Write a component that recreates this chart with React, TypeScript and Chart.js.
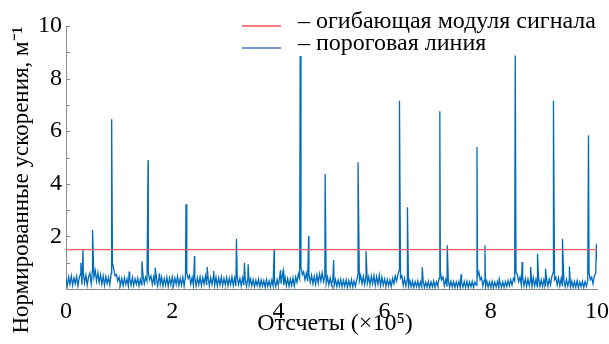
import { useEffect, useRef } from "react";
import { Chart, registerables } from "chart.js";

Chart.register(...registerables);

// ---- data ----
const xMin = 0;
const xMax = 10;
const baseStep = 0.025; // x-spacing of the baseline samples (×10^5)

// baseline (noise) samples of the signal, x = 0 … 10 step 0.025
const baseline = [
  0.40, 0.12, 0.46, 0.18, 0.50, 0.14, 0.42, 0.20, 0.48, 0.11, 0.44, 0.58, 0.16, 0.66, 0.22, 0.52, 0.15, 0.47, 0.60, 0.20,
  0.75, 0.45, 0.70, 0.30, 0.62, 0.25, 0.55, 0.18, 0.50, 0.14, 0.47, 0.20, 0.44, 0.16, 0.58, 0.98, 0.75, 0.50, 0.55, 0.30,
  0.45, 0.15, 0.40, 0.12, 0.43, 0.17, 0.38, 0.10, 0.41, 0.14, 0.44, 0.13, 0.39, 0.18, 0.42, 0.11, 0.37, 0.16, 0.52, 0.20,
  0.45, 0.30, 0.62, 0.35, 0.50, 0.18, 0.46, 0.14, 0.48, 0.12, 0.43, 0.17, 0.45, 0.11, 0.40, 0.15, 0.44, 0.10, 0.41, 0.16,
  0.46, 0.13, 0.42, 0.17, 0.48, 0.12, 0.40, 0.15, 0.45, 0.11, 0.50, 0.60, 0.40, 0.52, 0.18, 0.44, 0.14, 0.41, 0.12, 0.43,
  0.16, 0.47, 0.13, 0.44, 0.18, 0.50, 0.15, 0.46, 0.12, 0.43, 0.17, 0.48, 0.14, 0.45, 0.11, 0.42, 0.16, 0.46, 0.13, 0.40,
  0.15, 0.44, 0.12, 0.41, 0.17, 0.46, 0.13, 0.42, 0.11, 0.45, 0.16, 0.40, 0.12, 0.43, 0.14, 0.39, 0.10, 0.42, 0.15, 0.38,
  0.12, 0.36, 0.09, 0.33, 0.13, 0.37, 0.08, 0.34, 0.11, 0.32, 0.07, 0.35, 0.10, 0.31, 0.08, 0.34, 0.12, 0.30, 0.09, 0.36,
  0.14, 0.48, 0.20, 0.55, 0.15, 0.45, 0.12, 0.40, 0.10, 0.38, 0.13, 0.42, 0.11, 0.46, 0.25, 0.58, 0.40, 0.82, 0.55, 0.66,
  0.35, 0.60, 0.30, 0.56, 0.25, 0.52, 0.20, 0.48, 0.18, 0.54, 0.22, 0.58, 0.30, 0.62, 0.28, 0.50, 0.20, 0.46, 0.15, 0.42,
  0.16, 0.40, 0.12, 0.36, 0.09, 0.34, 0.11, 0.37, 0.08, 0.33, 0.10, 0.35, 0.07, 0.32, 0.09, 0.36, 0.08, 0.31, 0.10, 0.34,
  0.58, 0.30, 0.52, 0.20, 0.48, 0.17, 0.50, 0.22, 0.46, 0.15, 0.49, 0.20, 0.52, 0.14, 0.47, 0.18, 0.53, 0.12, 0.45, 0.15,
  0.38, 0.10, 0.36, 0.12, 0.34, 0.09, 0.40, 0.20, 0.50, 0.30, 0.55, 0.72, 0.42, 0.50, 0.14, 0.40, 0.11, 0.35, 0.09, 0.33,
  0.08, 0.30, 0.06, 0.28, 0.09, 0.31, 0.05, 0.27, 0.08, 0.32, 0.06, 0.26, 0.07, 0.29, 0.05, 0.27, 0.08, 0.30, 0.06, 0.28,
  0.12, 0.40, 0.68, 0.35, 0.45, 0.12, 0.36, 0.09, 0.32, 0.07, 0.30, 0.08, 0.28, 0.06, 0.27, 0.08, 0.29, 0.05, 0.26, 0.07,
  0.28, 0.06, 0.30, 0.05, 0.27, 0.08, 0.29, 0.06, 0.26, 0.15, 0.48, 0.65, 0.35, 0.44, 0.12, 0.33, 0.08, 0.30, 0.06, 0.27,
  0.07, 0.29, 0.05, 0.26, 0.08, 0.28, 0.05, 0.25, 0.07, 0.27, 0.06, 0.28, 0.09, 0.32, 0.12, 0.35, 0.15, 0.40, 0.30, 0.62,
  0.55, 0.28, 0.45, 0.15, 0.42, 0.12, 0.40, 0.10, 0.38, 0.12, 0.40, 0.09, 0.43, 0.11, 0.37, 0.08, 0.41, 0.10, 0.35, 0.09,
  0.36, 0.12, 0.40, 0.10, 0.38, 0.15, 0.48, 0.62, 0.35, 0.45, 0.15, 0.42, 0.12, 0.40, 0.10, 0.38, 0.09, 0.36, 0.11, 0.33,
  0.08, 0.30, 0.06, 0.28, 0.07, 0.31, 0.05, 0.27, 0.08, 0.29, 0.06, 0.28, 0.10, 0.33, 0.62, 0.35, 0.45, 0.20, 0.50, 0.60,
  1.15,
];

// narrow impulses of the signal
const spikeX = [
  0.28, 0.32, 0.5, 0.86, 1.19, 1.43, 1.546, 1.68, 1.76, 2.26, 2.42, 2.66, 2.78, 3.21, 3.36, 3.43,
  3.92, 4.04, 4.09, 4.41, 4.57, 4.88, 5.04, 5.5, 5.65, 6.28, 6.43, 6.71, 7.04, 7.18, 7.44, 7.74,
  7.89, 8.16, 8.46, 8.59, 8.75, 8.88, 9.03, 9.18, 9.35, 9.48, 9.84, 9.99,
];
const spikeY = [
  1.0, 1.48, 2.25, 6.45, 0.66, 1.05, 4.9, 0.81, 0.6, 3.22, 1.25, 0.84, 0.68, 1.91, 1.0, 0.94,
  1.49, 0.72, 0.7, 8.86, 2.01, 4.37, 1.1, 4.82, 1.44, 7.16, 3.11, 0.83, 6.76, 1.66, 0.56, 5.4,
  1.66, 0.38, 8.88, 1.03, 0.84, 1.34, 0.77, 7.16, 1.91, 0.86, 5.85, 1.72,
];

// horizontal threshold line
const thresholdX = [0, 10];
const thresholdY = [1.5, 1.5];

const legendLabels = ["огибающая модуля сигнала", "пороговая линия"];
const xTitle = "Отсчеты (×10⁵)";
const yTitle = "Нормированные ускорения, м⁻¹";
const xTickStep = 2;
const yTickStep = 2;
const yMin = 0;
const yMax = 10;

// ---- styles ----
const SERIF = "'Liberation Serif', 'Times New Roman', serif";
const BLUE = "rgb(0,108,188)";
const RED = "rgb(242,95,95)";
const AXIS = "#8a8a8a";

const decorPlugin = {
  id: "decor",
  afterDraw(chart: any) {
    const { ctx, chartArea, scales } = chart;
    const xs = scales.x;
    const ys = scales.y;
    ctx.save();
    // inward minor/major ticks
    ctx.strokeStyle = AXIS;
    ctx.lineWidth = 1;
    ctx.beginPath();
    for (let v = xMin + 1; v < xMax; v++) {
      const px = Math.round(xs.getPixelForValue(v)) + 0.5;
      ctx.moveTo(px, chartArea.bottom);
      ctx.lineTo(px, chartArea.bottom - 4);
    }
    for (let v = yMin + 1; v <= yMax; v++) {
      const py = Math.round(ys.getPixelForValue(v)) + 0.5;
      ctx.moveTo(chartArea.left, py);
      ctx.lineTo(chartArea.left + 4, py);
    }
    ctx.stroke();

    // axis titles
    ctx.fillStyle = "#000";
    ctx.font = `24px ${SERIF}`;
    ctx.textAlign = "center";
    ctx.textBaseline = "alphabetic";
    ctx.fillText(xTitle, 335, 330);
    ctx.save();
    ctx.font = `23px ${SERIF}`;
    ctx.translate(28, 180);
    ctx.rotate(-Math.PI / 2);
    ctx.fillText(yTitle, 0, 0);
    ctx.restore();

    // legend
    const ds = chart.data.datasets;
    const rows = [
      { y: 26, color: "rgb(255,80,80)", text: "– " + ds[0].label },
      { y: 48, color: "rgb(70,120,185)", text: "– " + ds[1].label },
    ];
    ctx.textAlign = "left";
    ctx.font = `24px ${SERIF}`;
    rows.forEach((r) => {
      ctx.strokeStyle = r.color;
      ctx.lineWidth = 1.5;
      ctx.beginPath();
      ctx.moveTo(242, r.y);
      ctx.lineTo(281, r.y);
      ctx.stroke();
      ctx.fillStyle = "#000";
      ctx.fillText(r.text, 298, r.y + 2);
    });
    ctx.restore();
  },
};

export default function App() {
  const ref = useRef<HTMLCanvasElement>(null);
  useEffect(() => {
    if (!ref.current) return;
    const signal = baseline
      .map((y, i) => ({ x: Math.round(i * baseStep * 1000) / 1000, y }))
      .concat(spikeX.map((x, i) => ({ x, y: spikeY[i] })))
      .sort((a, b) => a.x - b.x);
    const threshold = thresholdX.map((x, i) => ({ x, y: thresholdY[i] }));

    const chart = new Chart(ref.current, {
      type: "line",
      data: {
        datasets: [
          {
            label: legendLabels[0],
            data: threshold,
            borderColor: RED,
            borderWidth: 1.2,
            pointRadius: 0,
          },
          {
            label: legendLabels[1],
            data: signal,
            borderColor: BLUE,
            borderWidth: 1.3,
            pointRadius: 0,
            tension: 0,
          },
        ],
      },
      options: {
        responsive: false,
        animation: false,
        layout: { padding: { left: 0, top: 26, right: 12, bottom: 0 } },
        plugins: { legend: { display: false }, tooltip: { enabled: false } },
        scales: {
          x: {
            type: "linear",
            min: xMin,
            max: xMax,
            ticks: {
              stepSize: xTickStep,
              autoSkip: false,
              maxRotation: 0,
              padding: 8,
              color: "#000",
              font: { family: SERIF, size: 24 },
            },
            grid: { display: false, drawTicks: false },
            border: { display: true, color: AXIS, width: 1 },
            afterFit(s: any) {
              s.height = 55;
              s.paddingLeft = 0;
              s.paddingRight = 0;
            },
          },
          y: {
            type: "linear",
            min: yMin,
            max: yMax,
            ticks: {
              stepSize: yTickStep,
              padding: 4,
              color: "#000",
              font: { family: SERIF, size: 24 },
              callback: (v: any) => (v === 0 ? "" : String(v)),
            },
            grid: { display: false, drawTicks: false },
            border: { display: true, color: AXIS, width: 1 },
            afterFit(s: any) {
              s.width = 66;
              s.paddingTop = 0;
              s.paddingBottom = 0;
            },
          },
        },
      },
      plugins: [decorPlugin],
    });
    return () => chart.destroy();
  }, []);

  return (
    <div style={{ position: "fixed", left: 0, top: 0, width: 609, height: 344, background: "#fff" }}>
      <canvas ref={ref} width={609} height={344} style={{ display: "block" }} />
    </div>
  );
}
